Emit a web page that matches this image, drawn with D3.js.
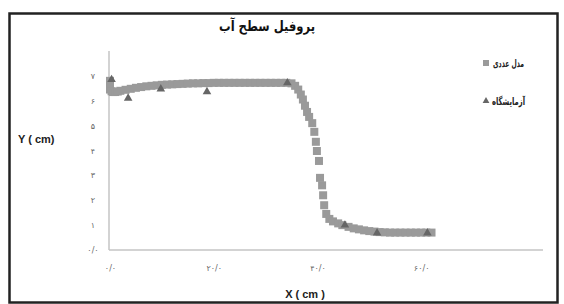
<!DOCTYPE html>
<html><head><meta charset="utf-8">
<script src="https://cdn.jsdelivr.net/npm/d3@7"></script>
<style>body{margin:0;background:#fff}svg{display:block}</style>
</head><body>
<script>
const title = "پروفیل سطح آب";
const seriesNames = ["مدل عددی", "آزمایشگاه"];
const xTickValues = [0, 20, 40, 60];
const xTickLabels = ["۰/۰", "۲۰/۰", "۴۰/۰", "۶۰/۰"];
const yTickValues = [0, 1, 2, 3, 4, 5, 6, 7];
const yTickLabels = ["۰/۰", "۱", "۲", "۳", "۴", "۵", "۶", "۷"];
const xTitle = "X ( cm )";
const yTitle = "Y ( cm)";

// numerical model (square markers)
const modelX = [0,0,0,0.3,0.6,1,1.5,2,3,4,5,6,7,8,9,10,11,12,13,14,15,16,17,18,19,20,21,22,23,24,25,26,27,28,29,30,31,32,33,34,35,35.7,36.3,36.8,37.2,37.6,38.0,38.4,39.0,39.4,39.7,39.9,40.3,40.5,40.9,41.1,41.3,41.7,42.3,43.0,44.0,44.8,46,47,48,49,50,51,52,53,54,55,56,57,58,59,60,61,62];
const modelY = [6.8,6.6,6.45,6.38,6.35,6.35,6.37,6.4,6.44,6.48,6.52,6.55,6.58,6.6,6.62,6.64,6.65,6.66,6.67,6.68,6.69,6.7,6.7,6.71,6.71,6.72,6.72,6.72,6.72,6.72,6.72,6.72,6.72,6.72,6.72,6.72,6.72,6.72,6.72,6.72,6.7,6.6,6.45,6.25,6.05,5.8,5.55,5.35,5.1,4.75,4.35,3.98,3.58,2.9,2.6,2.2,1.8,1.45,1.25,1.15,1.07,1.0,0.93,0.87,0.83,0.79,0.76,0.74,0.72,0.71,0.7,0.7,0.7,0.7,0.7,0.7,0.7,0.7,0.7];

// experimental (triangle markers)
const expX = [0.3, 3.5, 9.8, 18.7, 34.2, 45.3, 51.5, 61.2];
const expY = [6.85, 6.1, 6.47, 6.36, 6.72, 1.0, 0.68, 0.68];

const W = 564, H = 304;
const svg = d3.select("body").append("svg").attr("width", W).attr("height", H);

svg.append("rect").attr("x", 9.5).attr("y", 13.5).attr("width", 548).attr("height", 289)
  .attr("fill", "#fff").attr("stroke", "#222").attr("stroke-width", 2.5);

const x = d3.scaleLinear().domain([0, 83.5]).range([110, 543]);
const y = d3.scaleLinear().domain([0, 8]).range([250, 51]);

const arabicFont = "'DejaVu Sans', 'Noto Sans', sans-serif";

// title
svg.append("text").attr("x", 267).attr("y", 31).attr("text-anchor", "middle")
  .attr("font-family", arabicFont).attr("font-weight", "bold").attr("font-size", 14)
  .attr("textLength", 96).attr("lengthAdjust", "spacingAndGlyphs")
  .attr("fill", "#111").text(title);

// axes
const xAxis = d3.axisBottom(x).tickValues(xTickValues).tickSize(0)
  .tickFormat((d, i) => xTickLabels[i]);
const gx = svg.append("g").attr("transform", `translate(0,${y(0)})`).call(xAxis);
gx.select(".domain").attr("stroke", "#c4c4c4").attr("stroke-width", 1.5).attr("d", `M${x(0) - 1},0H543`);
gx.selectAll("text").attr("dy", 0).attr("y", 21).attr("font-family", arabicFont)
  .attr("font-size", 8).attr("fill", "#666");

const yAxis = d3.axisLeft(y).tickValues(yTickValues).tickSize(0)
  .tickFormat((d, i) => yTickLabels[i]);
const gy = svg.append("g").attr("transform", `translate(${x(0) - 1},0)`).call(yAxis);
gy.select(".domain").attr("stroke", "#c4c4c4").attr("stroke-width", 1.5).attr("d", `M0,${y(8)}V${y(0)}`);
gy.selectAll("text").attr("x", -16).attr("text-anchor", "middle").attr("font-family", arabicFont)
  .attr("font-size", 8).attr("fill", "#666");

// axis titles
svg.append("text").attr("x", 305).attr("y", 298).attr("text-anchor", "middle")
  .attr("font-family", "'Liberation Sans', Arial, sans-serif").attr("font-weight", "bold")
  .attr("font-size", 11).attr("fill", "#222").text(xTitle);
svg.append("text").attr("x", 18).attr("y", 143)
  .attr("font-family", "'Liberation Sans', Arial, sans-serif").attr("font-weight", "bold")
  .attr("font-size", 11).attr("fill", "#222").text(yTitle);

// model squares
const sq = 8;
svg.append("g").selectAll("rect").data(modelX.map((d, i) => [d, modelY[i]])).join("rect")
  .attr("x", d => x(d[0]) - sq / 2).attr("y", d => y(d[1]) - sq / 2)
  .attr("width", sq).attr("height", sq).attr("fill", "#9a9a9a");

// experimental triangles
const tri = d3.symbol().type(d3.symbolTriangle).size(32);
svg.append("g").selectAll("path").data(expX.map((d, i) => [d, expY[i]])).join("path")
  .attr("d", tri).attr("transform", d => `translate(${x(d[0])},${y(d[1])})`)
  .attr("fill", "#666");

// legend
const leg = svg.append("g");
leg.append("rect").attr("x", 483).attr("y", 60).attr("width", 6).attr("height", 6).attr("fill", "#9a9a9a");
leg.append("text").attr("x", 493).attr("y", 67).attr("font-family", arabicFont)
  .attr("font-weight", "bold").attr("font-size", 10.5).attr("textLength", 31).attr("lengthAdjust", "spacingAndGlyphs")
  .attr("fill", "#222").text(seriesNames[0]);
leg.append("path").attr("d", tri.size(20)).attr("transform", "translate(486,101)").attr("fill", "#666");
leg.append("text").attr("x", 492).attr("y", 105).attr("font-family", arabicFont)
  .attr("font-weight", "bold").attr("font-size", 10.5).attr("textLength", 33).attr("lengthAdjust", "spacingAndGlyphs")
  .attr("fill", "#222").text(seriesNames[1]);
</script>
</body></html>
